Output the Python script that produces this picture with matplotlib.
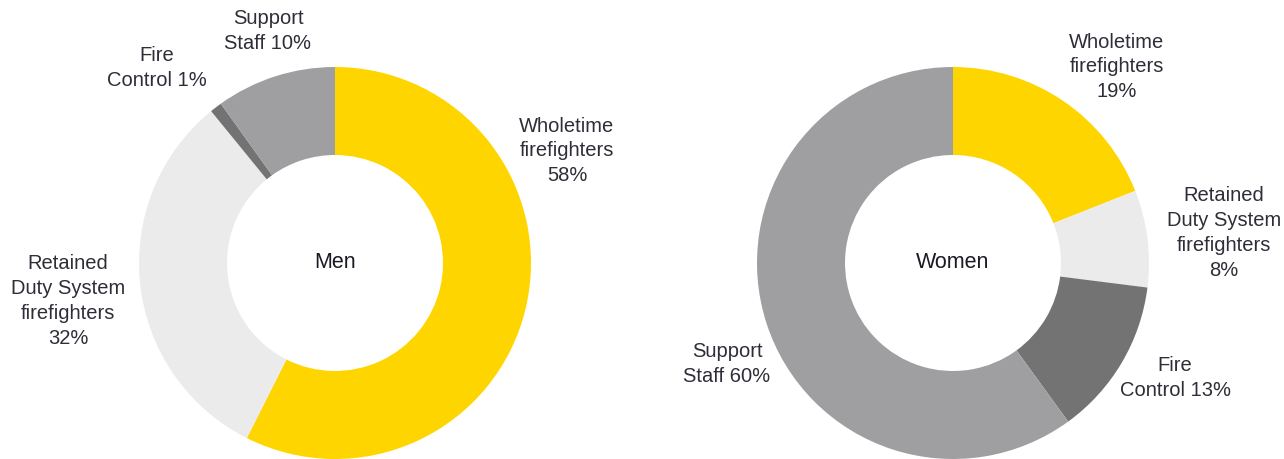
import matplotlib
matplotlib.use("Agg")
import matplotlib.pyplot as plt

categories = ["Wholetime firefighters", "Retained Duty System firefighters", "Fire Control", "Support Staff"]
men_values = [58, 32, 1, 10]
women_values = [19, 8, 13, 60]
colors = ["#FFD500", "#EBEBEB", "#737373", "#9F9FA1"]

men_labels = ["Wholetime\nfirefighters\n58%", "Retained\nDuty System\nfirefighters\n32%",
              "Fire\nControl 1%", "Support\nStaff 10%"]
women_labels = ["Wholetime\nfirefighters\n19%", "Retained\nDuty System\nfirefighters\n8%",
                "Fire\nControl 13%", "Support\nStaff 60%"]

W, H = 1284, 459
fig = plt.figure(figsize=(W / 100, H / 100), dpi=100)
ax = fig.add_axes([0, 0, 1, 1])

R, width = 196, 88
TXT = "#2E2E38"
FONT = ["Liberation Sans", "DejaVu Sans"]

def donut(values, labels, cx, cy, title, label_pos):
    ax.pie(values, colors=colors, startangle=90, counterclock=False,
           radius=R, center=(cx, H - cy),
           wedgeprops=dict(width=width, linewidth=0))
    ax.text(cx, H - cy, title, ha="center", va="center", fontsize=15.5,
            color="#1A1A24", family=FONT)
    for lab, (px, py) in zip(labels, label_pos):
        ax.text(px, H - py, lab, ha="center", va="center", fontsize=14.5,
                color=TXT, family=FONT, linespacing=1.38)

donut(men_values, men_labels, 335, 263, "Men",
      [(567, 151), (68, 301), (157, 68), (268, 31)])
donut(women_values, women_labels, 953, 263, "Women",
      [(1117, 67), (1224, 233), (1175, 378), (727, 364)])

ax.set_xlim(0, W)
ax.set_ylim(0, H)
ax.set_aspect("equal")
ax.axis("off")
fig.savefig("out.png", dpi=100)
